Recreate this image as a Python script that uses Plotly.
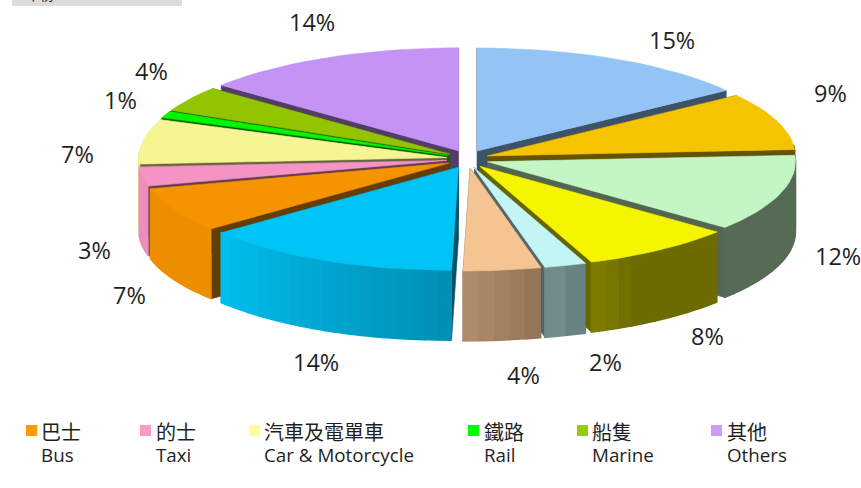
import numpy as np
import plotly.graph_objects as go

# ---- data ----
categories = ["", "", "", "", "", "", "", "巴士<br>Bus", "的士<br>Taxi", "汽車及電單車<br>Car & Motorcycle",
              "鐵路<br>Rail", "船隻<br>Marine", "其他<br>Others"]
values = [15, 9, 12, 8, 2, 4, 14, 7, 3, 7, 1, 4, 14]
colors = ["#99CCFF", "#FFCC00", "#CCFFCC", "#FFFF00", "#CCFFFF", "#FFCC99", "#00CCFF",
          "#FF9900", "#FF99CC", "#FFFF99", "#00FF00", "#99CC00", "#CC99FF"]
label_pos = [(672, 40), (830, 93), (838, 256), (707, 336), (605, 362), (523, 375), (316, 362),
             (129, 295), (94, 250), (77, 154), (120, 100), (151, 71), (312, 22)]
legend_box_x = [31.5, 145.5, 254.5, 473.5, 582.5, 716.5]
legend_text_x = [40, 155, 263, 483, 591, 726]

# ---- geometry of the tilted pie ----
CX, CY, RX, RY, DEPTH, EX, EY = 467.5, 159, 308, 103, 70, 21, 9
TOP_F, RADIAL_F = 0.96, 0.40


def shade(hex_color, f):
    r, g, b = int(hex_color[1:3], 16), int(hex_color[3:5], 16), int(hex_color[5:7], 16)
    return f"rgb({r*f:.0f},{g*f:.0f},{b*f:.0f})"


def rim_factor(deg):
    return float(np.interp(deg, [90, 150, 180, 230, 270], [.42, .42, .70, .93, .93]))


def skew(deg):
    return np.interp(deg, [155, 168, 192, 225], [0, -7, -7, 0])


def poly(xs, ys, color, width=0.6):
    return go.Scatter(x=list(xs), y=list(ys), mode="lines", fill="toself", fillcolor=color,
                      line=dict(color=color, width=width), hoverinfo="skip", showlegend=False)


fractions = np.array(values, dtype=float) / sum(values)
ends = np.cumsum(fractions) * 360
starts = ends - fractions * 360
mids = (starts + ends) / 2
order = np.argsort(-np.cos(np.radians(mids)))

fig = go.Figure()
for i in order:
    a0, a1, mid = starts[i], ends[i], mids[i]
    ax = CX + EX * np.sin(np.radians(mid))
    ay = CY - EY * np.cos(np.radians(mid))
    n = max(2, int((a1 - a0) / 2.5) + 1)
    deg = np.linspace(a0, a1, n)
    rx = ax + RX * np.sin(np.radians(deg)) + skew(deg)
    ry = ay - RY * np.cos(np.radians(deg))
    dark = shade(colors[i], RADIAL_F)
    # radial walls
    fig.add_trace(poly([ax, rx[0], rx[0], ax], [ay, ry[0], ry[0] + DEPTH, ay + DEPTH], dark))
    fig.add_trace(poly([ax, rx[-1], rx[-1], ax], [ay, ry[-1], ry[-1] + DEPTH, ay + DEPTH], dark))
    # outer wall, front half only
    for k in range(n - 1):
        md = (deg[k] + deg[k + 1]) / 2
        if 85 < md < 275:
            fig.add_trace(poly([rx[k], rx[k + 1], rx[k + 1], rx[k]],
                               [ry[k], ry[k + 1], ry[k + 1] + DEPTH, ry[k] + DEPTH],
                               shade(colors[i], rim_factor(md)), width=1.5))
    # top face
    fig.add_trace(poly(np.r_[ax, rx, ax], np.r_[ay, ry, ay], shade(colors[i], TOP_F)))

FONT = "Open Sans, Noto Sans CJK TC, sans-serif"
annotations = []
for v, (x, y) in zip(values, label_pos):
    annotations.append(dict(x=x, y=y, text=f"{v}%", showarrow=False, xanchor="center", yanchor="middle",
                            borderpad=0, font=dict(family=FONT, size=23.5, color="#1f1f1f")))

legend_items = [(c, col) for c, col in zip(categories, colors) if c]
for (name, col), bx, tx in zip(legend_items, legend_box_x, legend_text_x):
    fig.add_trace(go.Scatter(x=[bx], y=[430.5], mode="markers", hoverinfo="skip", showlegend=False,
                             marker=dict(symbol="square", size=11, color=col, line=dict(width=0))))
    zh, en = name.split("<br>")
    annotations.append(dict(x=tx, y=431, text=zh, showarrow=False, xanchor="left", yanchor="middle",
                            borderpad=0, font=dict(family="Noto Sans CJK TC, sans-serif", size=20, color="#1f1f1f")))
    annotations.append(dict(x=tx, y=455, text=en, showarrow=False, xanchor="left", yanchor="middle",
                            borderpad=0, font=dict(family=FONT, size=18.8, color="#1f1f1f")))

annotations.append(dict(x=24, y=5, text="年份", showarrow=False, xanchor="left", yanchor="bottom",
                        borderpad=0, font=dict(family="Noto Sans CJK TC, sans-serif", size=15, color="#333333")))

fig.update_layout(
    width=861, height=488, margin=dict(l=0, r=0, t=0, b=0),
    paper_bgcolor="white", plot_bgcolor="white", showlegend=False,
    xaxis=dict(range=[0, 861], visible=False, fixedrange=True),
    yaxis=dict(range=[488, 0], visible=False, fixedrange=True),
    annotations=annotations,
    shapes=[dict(type="rect", xref="x", yref="y", x0=12, x1=182, y0=0, y1=6, layer="below",
                 fillcolor="#DCDCDC", line=dict(width=0))],
)
fig.write_html("out.html", config={"displayModeBar": False},
               post_script="document.body.style.margin='0';document.body.style.overflow='hidden';")
